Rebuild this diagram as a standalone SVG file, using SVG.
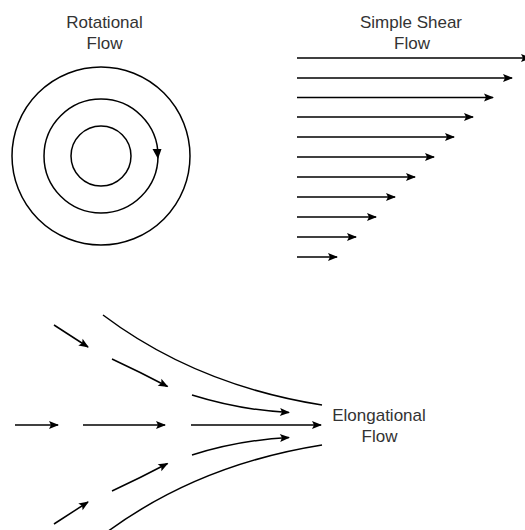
<svg xmlns="http://www.w3.org/2000/svg" width="525" height="530" viewBox="0 0 525 530">
<style>
.lbl{font-family:"Liberation Sans",Arial,Helvetica,sans-serif;font-size:17px;fill:#333;text-anchor:middle}
.ln{fill:none;stroke:#000;stroke-width:1.5}
.arr{marker-end:url(#ah)}
</style>
<defs>
<marker id="ah" markerUnits="userSpaceOnUse" markerWidth="12" markerHeight="10" refX="9" refY="4" orient="auto" overflow="visible">
<path d="M0,0 L10,4 L0,8 L2,4 Z" fill="#000"/>
</marker>
</defs>
<rect width="525" height="530" fill="#fff"/>

<g id="rotational">
<text class="lbl" x="104.5" y="28">Rotational</text>
<text class="lbl" x="104.5" y="49">Flow</text>
<circle class="ln" cx="101" cy="156" r="30"/>
<circle class="ln" cx="101" cy="156" r="57"/>
<circle class="ln" cx="101" cy="156" r="89"/>
<polygon points="152.5,149 161.5,149 158,159" fill="#000"/>
</g>

<g id="shear">
<text class="lbl" x="411" y="28">Simple Shear</text>
<text class="lbl" x="412" y="49">Flow</text>
</g>

<g id="elongational">
<text class="lbl" x="379" y="421">Elongational</text>
<text class="lbl" x="379.5" y="442">Flow</text>
</g>

<g id="connectors">
<line class="ln arr" x1="297" y1="58" x2="530" y2="58"/>
<line class="ln arr" x1="297" y1="78" x2="512" y2="78"/>
<line class="ln arr" x1="297" y1="97.5" x2="493" y2="97.5"/>
<line class="ln arr" x1="297" y1="117" x2="473" y2="117"/>
<line class="ln arr" x1="297" y1="137" x2="454" y2="137"/>
<line class="ln arr" x1="297" y1="157" x2="434" y2="157"/>
<line class="ln arr" x1="297" y1="177" x2="415" y2="177"/>
<line class="ln arr" x1="297" y1="197" x2="395" y2="197"/>
<line class="ln arr" x1="297" y1="217" x2="376" y2="217"/>
<line class="ln arr" x1="297" y1="237" x2="356" y2="237"/>
<line class="ln arr" x1="297" y1="257" x2="337" y2="257"/>

<line class="ln arr" x1="54" y1="325" x2="88" y2="347"/>
<path class="ln arr" d="M112,359 Q140,372 167.5,386.5"/>
<line class="ln arr" x1="15" y1="425" x2="58" y2="425"/>
<line class="ln arr" x1="83" y1="425" x2="165" y2="425"/>
<path class="ln arr" d="M112,491 Q140,478 167.5,463.5"/>
<line class="ln arr" x1="54" y1="524" x2="88" y2="502"/>

<path class="ln" d="M103,315 Q196,385 322,405"/>
<path class="ln arr" d="M192,395 Q240,410 289,412.5"/>
<line class="ln arr" x1="191" y1="425" x2="321" y2="425"/>
<path class="ln arr" d="M192,455 Q240,440 289,437.5"/>
<path class="ln" d="M103,535 Q196,465 322,445"/>
</g>
</svg>
